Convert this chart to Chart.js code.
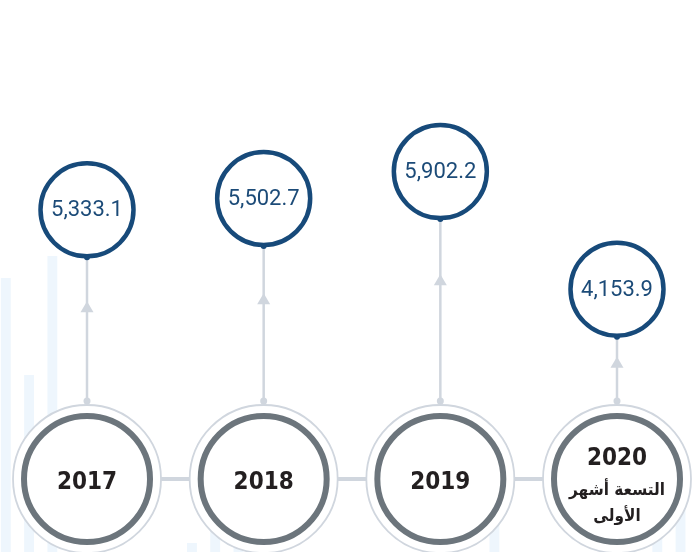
<!DOCTYPE html>
<html>
<head>
<meta charset="utf-8">
<script src="https://cdn.jsdelivr.net/npm/chart.js"></script>
<style>
  html, body { margin: 0; padding: 0; background: #ffffff; }
  #wrap { width: 698px; height: 552px; position: relative; }
</style>
</head>
<body>
<div id="wrap"><canvas id="myChart"></canvas></div>
<script>
// chart data
const years = ['2017', '2018', '2019', '2020'];
const yearNotes = ['', '', '', 'التسعة أشهر\nالأولى'];
const values = [5333.1, 5502.7, 5902.2, 4153.9];

// faint decorative bars in the background
const bgBarHeights = [274, 177, 296, 0, 0, 0, 0, 0, 9, 22, 9, 0, 0, 0, 0,
                      0, 0, 0, 0, 0, 0, 82, 0, 0, 0, 0, 0, 0, 84, 92];

const DARK_BLUE = '#174a7a';
const TEXT_BLUE = '#1c4b78';
const GREY_RING = '#6c757c';
const LIGHT = '#d0d6de';

const ctx = document.getElementById('myChart');

function fmt(v) {
  return v.toLocaleString('en-US', { minimumFractionDigits: 1, maximumFractionDigits: 1 });
}

const timeline = {
  id: 'timeline',
  beforeDatasetDraw(chart, args) {
    if (args.index !== 1) return;
    const c = chart.ctx;
    const xs = chart.scales.x;
    const ys = chart.scales.y;
    const baseY = chart.chartArea.bottom - 73;
    const outerR = 74;
    const pts = years.map((y, i) => xs.getPixelForValue(i));

    c.save();
    // connectors between the year circles
    c.strokeStyle = LIGHT;
    c.lineWidth = 4;
    for (let i = 0; i < pts.length - 1; i++) {
      c.beginPath();
      c.moveTo(pts[i] + outerR, baseY);
      c.lineTo(pts[i + 1] - outerR, baseY);
      c.stroke();
    }

    // stems with arrow heads
    const r = chart.data.datasets[1].pointRadius;
    values.forEach((v, i) => {
      const x = pts[i];
      const top = ys.getPixelForValue(v) + r + 2;
      const bottom = baseY - outerR - 4;
      c.strokeStyle = LIGHT;
      c.lineWidth = 2.5;
      c.beginPath();
      c.moveTo(x, bottom);
      c.lineTo(x, top);
      c.stroke();
      // arrow
      const ay = top + (bottom - top) * 0.3;
      c.fillStyle = LIGHT;
      c.beginPath();
      c.moveTo(x, ay);
      c.lineTo(x - 6.5, ay + 11);
      c.lineTo(x + 6.5, ay + 11);
      c.closePath();
      c.fill();
      // dot at the foot
      c.beginPath();
      c.arc(x, bottom, 3.5, 0, Math.PI * 2);
      c.fill();
      // dot where the stem meets the value circle
      c.fillStyle = DARK_BLUE;
      c.beginPath();
      c.arc(x, top - 1, 3, 0, Math.PI * 2);
      c.fill();
    });

    // year circles
    pts.forEach((x) => {
      c.fillStyle = '#ffffff';
      c.beginPath();
      c.arc(x, baseY, outerR, 0, Math.PI * 2);
      c.fill();
      c.strokeStyle = LIGHT;
      c.lineWidth = 1.8;
      c.stroke();
      c.strokeStyle = GREY_RING;
      c.lineWidth = 6;
      c.beginPath();
      c.arc(x, baseY, 63, 0, Math.PI * 2);
      c.stroke();
    });
    c.restore();
  },
  afterDatasetsDraw(chart) {
    const c = chart.ctx;
    const xs = chart.scales.x;
    const ys = chart.scales.y;
    const baseY = chart.chartArea.bottom - 73;
    c.save();
    c.textAlign = 'center';
    c.textBaseline = 'middle';
    values.forEach((v, i) => {
      const x = xs.getPixelForValue(i);
      c.fillStyle = TEXT_BLUE;
      c.font = "22px Roboto, 'Open Sans', sans-serif";
      c.fillText(fmt(v), x, ys.getPixelForValue(v) + 1);

      c.fillStyle = '#231f20';
      if (yearNotes[i]) {
        c.font = "bold 24px 'DejaVu Sans Condensed', 'DejaVu Sans', sans-serif";
        c.fillText(years[i], x, baseY - 20);
        c.font = "bold 17px 'DejaVu Sans Condensed', 'DejaVu Sans', sans-serif";
        yearNotes[i].split('\n').forEach((line, k) => {
          c.fillText(line, x, baseY + 12 + k * 26);
        });
      } else {
        c.font = "bold 24px 'DejaVu Sans Condensed', 'DejaVu Sans', sans-serif";
        c.fillText(years[i], x, baseY + 4);
      }
    });
    c.restore();
  }
};

new Chart(ctx, {
  data: {
    datasets: [
      {
        type: 'bar',
        label: 'background',
        data: bgBarHeights,
        xAxisID: 'xb',
        yAxisID: 'yb',
        backgroundColor: '#eef6fd',
        borderWidth: 0,
        barPercentage: 0.85,
        categoryPercentage: 1,
        order: 2
      },
      {
        type: 'scatter',
        label: 'values',
        data: values.map((v, i) => ({ x: i, y: v })),
        pointRadius: 46.5,
        pointHoverRadius: 46.5,
        borderWidth: 4.5,
        borderColor: DARK_BLUE,
        backgroundColor: '#ffffff',
        order: 1
      }
    ]
  },
  options: {
    responsive: true,
    maintainAspectRatio: false,
    animation: false,
    layout: { padding: 0, autoPadding: false },
    plugins: {
      legend: { display: false },
      tooltip: { enabled: false }
    },
    scales: {
      x: { type: 'linear', display: false, min: -0.4925, max: 3.4585 },
      y: { type: 'linear', display: false, min: 245, max: 8454 },
      xb: { type: 'category', display: false, labels: bgBarHeights.map((h, i) => String(i)) },
      yb: { type: 'linear', display: false, min: 0, max: 552 }
    }
  },
  plugins: [timeline]
});
</script>
</body>
</html>
